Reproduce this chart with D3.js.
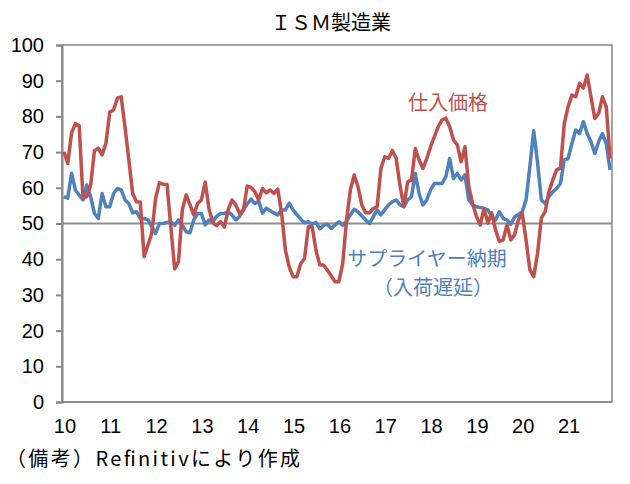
<!DOCTYPE html>
<meta charset="utf-8">
<script src="https://d3js.org/d3.v7.min.js"></script>
<style>
  body { margin: 0; background: #fff; }
  text { font-family: "Liberation Sans", "Noto Sans CJK JP", sans-serif; }
  .jp { font-family: "Noto Sans CJK JP", sans-serif; }
</style>
<div id="chart"></div>
<script>

// year labels (2010 - 2021), monthly data Jan 2010 - Dec 2021
const years = ["10","11","12","13","14","15","16","17","18","19","20","21"];
const yTicks = [0,10,20,30,40,50,60,70,80,90,100];

// 仕入価格 (prices paid)
const prices = [
  70.1, 66.8, 75.3, 78.0, 77.4, 57.1, 57.5, 60.8, 70.4, 71.1, 69.2, 72.5,
  81.2, 81.8, 85.1, 85.5, 77.0, 67.8, 58.4, 56.1, 56.0, 40.7, 44.0, 47.2,
  57.0, 61.4, 61.0, 60.9, 49.0, 37.3, 39.3, 53.8, 58.0, 55.3, 52.4, 55.6,
  56.6, 61.6, 54.0, 50.2, 49.4, 50.5, 49.0, 53.8, 56.6, 55.2, 52.8, 53.8,
  60.5, 60.1, 58.9, 56.6, 59.8, 58.6, 59.4, 58.4, 59.6, 52.8, 42.5, 37.8,
  35.1, 35.1, 38.8, 40.2, 49.1, 49.1, 42.5, 38.4, 38.4, 36.9, 35.3, 33.7,
  33.7, 38.8, 51.0, 59.4, 63.6, 60.3, 55.2, 53.0, 53.0, 54.2, 54.7, 65.4,
  68.7, 68.2, 70.4, 68.2, 60.6, 54.7, 61.7, 62.2, 71.0, 67.8, 65.4, 68.2,
  71.5, 74.3, 77.1, 79.0, 79.5, 77.1, 73.4, 72.0, 67.3, 71.5, 60.3, 55.6,
  52.0, 49.6, 54.2, 50.1, 53.0, 48.2, 45.0, 45.4, 49.6, 45.4, 46.8, 51.0,
  52.8, 45.4, 37.0, 35.1, 41.6, 51.5, 53.3, 59.0, 62.2, 65.0, 65.5, 78.0,
  82.7, 86.0, 85.5, 89.3, 87.9, 91.6, 85.5, 79.4, 80.8, 85.5, 82.7, 68.2
];

// サプライヤー納期 (supplier deliveries)
const deliveries = [
  57.5, 57.1, 64.1, 59.4, 58.0, 56.6, 60.8, 57.5, 52.8, 51.4, 58.4, 54.7,
  54.7, 58.4, 59.8, 59.4, 56.6, 55.6, 53.0, 53.3, 51.4, 51.4, 51.0, 49.1,
  47.2, 50.0, 50.0, 50.3, 50.5, 49.5, 51.0, 49.5, 47.7, 47.4, 51.0, 52.8,
  52.8, 49.6, 51.0, 50.5, 52.0, 52.8, 52.8, 53.3, 52.4, 51.0, 52.0, 53.8,
  55.5, 56.8, 55.6, 56.2, 52.9, 54.3, 53.6, 52.9, 52.4, 53.8, 53.8, 55.7,
  53.8, 52.5, 51.2, 50.2, 50.5, 49.8, 50.3, 48.5, 49.5, 49.8, 48.6, 49.6,
  50.5, 49.5, 50.6, 52.4, 54.0, 53.3, 52.1, 51.0, 50.0, 51.9, 53.8, 52.4,
  53.8, 55.2, 56.1, 56.6, 55.2, 54.7, 56.6, 57.5, 64.0, 58.4, 55.2, 56.6,
  59.4, 61.2, 61.2, 61.2, 63.1, 68.2, 62.6, 64.0, 62.2, 63.6, 56.6, 55.2,
  54.7, 54.5, 54.2, 53.8, 52.0, 51.0, 53.3, 51.4, 51.0, 49.8, 51.8, 52.5,
  53.3, 56.6, 66.0, 76.0, 67.1, 56.6, 55.6, 57.5, 58.9, 59.8, 61.2, 67.8,
  68.2, 72.4, 76.2, 75.2, 78.5, 75.2, 72.9, 69.6, 72.9, 75.2, 72.4, 65.0
];

const W = 630, H = 484;
const margin = {top: 45, right: 18, bottom: 82, left: 62};
const width = W - margin.left - margin.right,
      height = H - margin.top - margin.bottom;

const svg = d3.select("#chart")
  .append("svg")
    .attr("width", W)
    .attr("height", H);

const g = svg.append("g")
  .attr("transform", `translate(${margin.left},${margin.top})`);

const months = d3.range(prices.length);

const x = d3.scaleBand()
  .domain(months)
  .range([0, width]);

const y = d3.scaleLinear()
  .domain([0, 100])
  .range([height, 0]);

const axisColor = "#868686";

// plot frame (top / right)
g.append("rect")
  .attr("x", 0).attr("y", 0)
  .attr("width", width).attr("height", height)
  .attr("fill", "none")
  .attr("stroke", axisColor)
  .attr("stroke-width", 1.5);

// y axis
const yAxis = g.append("g")
  .call(d3.axisLeft(y).tickValues(yTicks).tickSize(6).tickPadding(12));
yAxis.select(".domain").attr("stroke", axisColor).attr("stroke-width", 2);
yAxis.selectAll(".tick line").attr("stroke", axisColor).attr("stroke-width", 2);
yAxis.selectAll(".tick text")
  .attr("font-size", 20)
  .attr("fill", "#000")
  .style("font-family", "'Liberation Sans', sans-serif");

// x axis line
g.append("line")
  .attr("x1", 0).attr("x2", width)
  .attr("y1", height).attr("y2", height)
  .attr("stroke", axisColor)
  .attr("stroke-width", 1.5);

// year labels at January of each year
g.selectAll(".year")
  .data(years)
  .join("text")
    .attr("class", "year")
    .attr("x", (d, i) => x(i * 12) + x.bandwidth() / 2 + 1)
    .attr("y", height + 31)
    .attr("text-anchor", "middle")
    .attr("font-size", 20)
    .text(d => d);

// 50 reference line
g.append("line")
  .attr("x1", 0).attr("x2", width)
  .attr("y1", y(50)).attr("y2", y(50))
  .attr("stroke", "#8c8c8c")
  .attr("stroke-width", 2);

const line = d3.line()
  .x((d, i) => x(i) + x.bandwidth() / 2)
  .y(d => y(d));

g.append("path")
  .datum(deliveries)
  .attr("fill", "none")
  .attr("stroke", "#4F81BD")
  .attr("stroke-width", 3.5)
  .attr("stroke-linejoin", "round")
  .attr("d", line);

g.append("path")
  .datum(prices)
  .attr("fill", "none")
  .attr("stroke", "#C0504D")
  .attr("stroke-width", 3.5)
  .attr("stroke-linejoin", "round")
  .attr("d", line);

// title
svg.append("text")
  .attr("class", "jp")
  .attr("x", 331)
  .attr("y", 30)
  .attr("text-anchor", "middle")
  .attr("font-size", 20)
  .text("ＩＳＭ製造業");

// series labels
svg.append("text")
  .attr("class", "jp")
  .attr("x", 448)
  .attr("y", 110)
  .attr("text-anchor", "middle")
  .attr("font-size", 20)
  .attr("fill", "#C0504D")
  .text("仕入価格");

svg.append("text")
  .attr("class", "jp")
  .attr("x", 427)
  .attr("y", 266)
  .attr("text-anchor", "middle")
  .attr("font-size", 20)
  .attr("fill", "#4F81BD")
  .text("サプライヤー納期");

svg.append("text")
  .attr("class", "jp")
  .attr("x", 433)
  .attr("y", 295)
  .attr("text-anchor", "middle")
  .attr("font-size", 20)
  .attr("fill", "#4F81BD")
  .text("（入荷遅延）");

// source note
svg.append("text")
  .attr("class", "jp")
  .attr("x", 6)
  .attr("y", 466)
  .attr("font-size", 20)
  .attr("textLength", 294)
  .attr("lengthAdjust", "spacing")
  .text("（備考）Refinitivにより作成");

</script>
